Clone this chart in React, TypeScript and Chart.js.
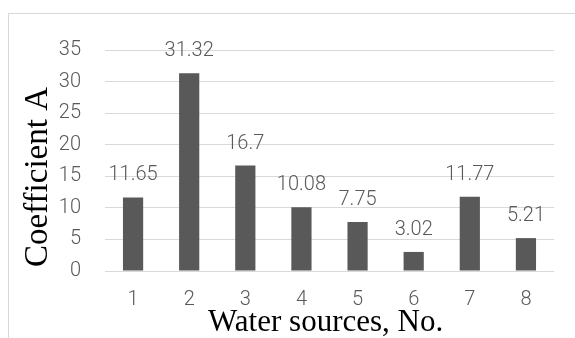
import React, { useEffect, useRef } from "react";
import { Chart, registerables } from "chart.js";

Chart.register(...registerables);

const categories = ["1", "2", "3", "4", "5", "6", "7", "8"];
const coefficientA = [11.65, 31.32, 16.7, 10.08, 7.75, 3.02, 11.77, 5.21];
const valueLabels = ["11.65", "31.32", "16.7", "10.08", "7.75", "3.02", "11.77", "5.21"];
const yTicks = [0, 5, 10, 15, 20, 25, 30, 35];

const TICK_FONT = "Roboto";
const SERIF = "'Times New Roman', 'Liberation Serif', serif";

const labelPlugin = {
  id: "valueLabels",
  afterDatasetsDraw(chart: any) {
    const ctx = chart.ctx;
    const meta = chart.getDatasetMeta(0);
    ctx.save();
    ctx.font = `300 20px ${TICK_FONT}`;
    ctx.fillStyle = "#595959";
    ctx.textAlign = "center";
    ctx.textBaseline = "alphabetic";
    meta.data.forEach((bar: any, i: number) => {
      ctx.fillText(valueLabels[i], bar.x, bar.y - 17);
    });
    ctx.restore();
  },
};

export default function App() {
  const canvasRef = useRef<HTMLCanvasElement | null>(null);

  useEffect(() => {
    if (!canvasRef.current) return;
    const chart = new Chart(canvasRef.current, {
      type: "bar",
      data: {
        labels: categories,
        datasets: [
          {
            data: coefficientA,
            backgroundColor: "#595959",
            barPercentage: 0.6,
            categoryPercentage: 0.6,
          },
        ],
      },
      options: {
        responsive: false,
        animation: false,
        devicePixelRatio: 1,
        layout: { padding: { top: 29, right: 21, left: 0, bottom: 0 } },
        plugins: {
          legend: { display: false },
          tooltip: { enabled: false },
          title: { display: false },
        },
        scales: {
          x: {
            grid: { display: false, drawTicks: false },
            border: { display: false },
            ticks: {
              color: "#595959",
              font: { family: TICK_FONT, size: 20, weight: "300" },
              padding: 17,
            },
            title: {
              display: true,
              text: "Water sources, No.\u00a0",
              color: "#000000",
              font: { family: SERIF, size: 31, lineHeight: 1 },
              padding: { top: 0, bottom: 0 },
            },
            afterFit: (scale: any) => {
              scale.height = 67;
            },
          },
          y: {
            min: 0,
            max: 35,
            afterBuildTicks: (scale: any) => {
              scale.ticks = yTicks.map((v) => ({ value: v }));
            },
            grid: { color: "#d9d9d9", lineWidth: 1, drawTicks: false },
            border: { display: false },
            ticks: {
              color: "#595959",
              font: { family: TICK_FONT, size: 20, weight: "300" },
              padding: 24,
            },
            title: {
              display: true,
              text: "Coefficient A\u00a0\u00a0\u00a0\u00a0",
              color: "#000000",
              font: { family: SERIF, size: 33, lineHeight: 1 },
              padding: { top: 13, bottom: 0 },
            },
            afterFit: (scale: any) => {
              scale.width = 96;
            },
          },
        },
      },
      plugins: [labelPlugin],
    });
    return () => chart.destroy();
  }, []);

  return (
    <div style={{ position: "fixed", left: 0, top: 0, width: 575, height: 338, overflow: "hidden", background: "#fff" }}>
      <div
        style={{
          position: "absolute",
          left: 8,
          top: 13,
          width: 600,
          height: 360,
          border: "1px solid #d9d9d9",
          boxSizing: "border-box",
        }}
      >
        <canvas ref={canvasRef} width={566} height={324} style={{ display: "block", width: 566, height: 324 }} />
      </div>
    </div>
  );
}
